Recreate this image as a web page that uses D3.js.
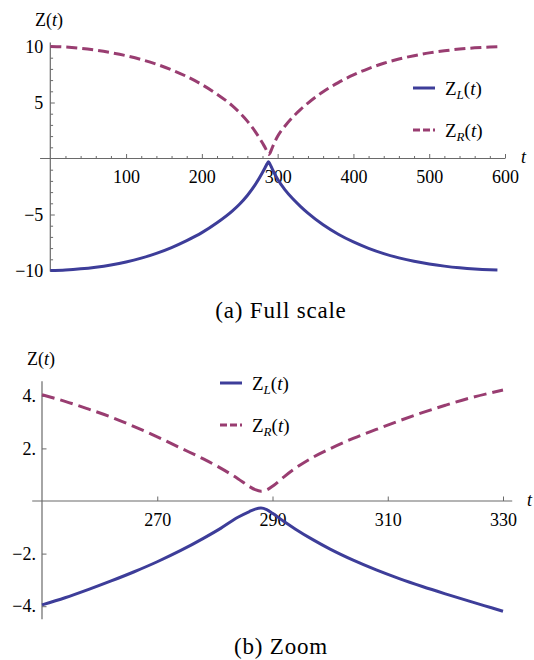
<!DOCTYPE html>
<html>
<head>
<meta charset="utf-8">
<script src="https://cdn.jsdelivr.net/npm/d3@7"></script>
</head>
<body style="margin:0">
<svg id="chart" width="534" height="660"></svg>
<script>
// (a) full scale, t = 0 ... 590
const tFull = [0, 20, 40, 60, 80, 100, 120, 140, 160, 180, 200, 220, 240, 250, 260, 270, 280, 284, 286, 288,
    290, 292, 296, 300, 310, 320, 330, 340, 360, 380, 400, 420, 440, 460, 480, 500, 520, 540, 560, 580, 590];
const zLFull = [-10, -9.95, -9.85, -9.7, -9.5, -9.24, -8.9, -8.47, -7.95, -7.33, -6.62, -5.74, -4.7, -4.06, -3.3, -2.38, -1.25, -0.74, -0.48, -0.28,
    -0.52, -0.8, -1.36, -1.86, -2.82, -3.6, -4.27, -4.88, -5.92, -6.76, -7.45, -8.02, -8.49, -8.87, -9.18, -9.42, -9.61, -9.76, -9.87, -9.94, -9.96];
const zRFull = [10.0, 9.95, 9.84, 9.67, 9.45, 9.18, 8.84, 8.42, 7.92, 7.32, 6.6, 5.74, 4.72, 4.08, 3.34, 2.45, 1.38, 0.9, 0.6, 0.36,
    0.5, 0.82, 1.45, 1.98, 2.92, 3.7, 4.36, 4.95, 5.96, 6.78, 7.46, 8.03, 8.5, 8.88, 9.18, 9.43, 9.62, 9.77, 9.88, 9.95, 9.97];

// (b) zoom, t = 250 ... 330
const tZoom = [250, 254, 258, 262, 266, 270, 274, 278, 281, 284, 286, 287, 288, 289, 290, 292, 294, 297, 300, 304, 308, 312, 316, 320, 324, 328, 330];
const zLZoom = [-3.95, -3.68, -3.37, -3.04, -2.69, -2.31, -1.89, -1.42, -1.04, -0.62, -0.4, -0.31, -0.27, -0.33, -0.47, -0.78, -1.07, -1.47, -1.83, -2.25, -2.62, -2.95, -3.25, -3.53, -3.8, -4.06, -4.19];
const zRZoom = [4.04, 3.79, 3.5, 3.19, 2.83, 2.44, 2.02, 1.6, 1.25, 0.85, 0.55, 0.43, 0.37, 0.42, 0.56, 0.92, 1.25, 1.66, 1.99, 2.38, 2.72, 3.05, 3.36, 3.64, 3.9, 4.12, 4.22];

// ticks
const fullXTicks = [100, 200, 300, 400, 500, 600];
const fullYTicks = [-10, -5, 5, 10];
const zoomXTicks = [270, 290, 310, 330];
const zoomYTicks = [-4, -2, 2, 4];

const BLUE = '#3d3d99',
    PURPLE = '#993d71',
    AXIS = '#6a6a6a',
    FONT = '"Liberation Serif", monospace';

var svg = d3.select('#chart');

// every text gets its own font
function serif(sel, size) {
    return sel.style('font-family', FONT).style('font-size', size + 'px');
}

function styleAxis(a) {
    a.attr('font-family', null).attr('font-size', null);
    a.select('.domain').remove();
    a.selectAll('line').attr('stroke', AXIS);
    a.selectAll('text').attr('fill', '#000').call(serif, 18);
}

function panel(opt) {
    var g = svg.append('g');
    var x = d3.scaleLinear().domain(opt.xDomain).range(opt.xRange);
    var y = d3.scaleLinear().domain(opt.yDomain).range(opt.yRange);

    // axis lines (a bit longer than the ticks, like Mathematica)
    g.append('line')
        .attr('x1', x(opt.xLine[0])).attr('x2', x(opt.xLine[1]))
        .attr('y1', y(0)).attr('y2', y(0))
        .attr('stroke', AXIS).attr('stroke-width', 1.2);
    g.append('line')
        .attr('x1', x(opt.xDomain[0])).attr('x2', x(opt.xDomain[0]))
        .attr('y1', y(opt.yLine[0])).attr('y2', y(opt.yLine[1]))
        .attr('stroke', AXIS).attr('stroke-width', 1.2);

    // minor ticks
    if (opt.xMinor) {
        g.append('g')
            .attr('transform', `translate(0,${y(0)})`)
            .call(d3.axisBottom(x).tickValues(opt.xMinor).tickSize(-2.5).tickFormat(''))
            .call(styleAxis);
    }
    if (opt.yMinor) {
        g.append('g')
            .attr('transform', `translate(${x(opt.xDomain[0])},0)`)
            .call(d3.axisLeft(y).tickValues(opt.yMinor).tickSize(-2.8).tickFormat(''))
            .call(styleAxis);
    }

    // major ticks + labels
    g.append('g')
        .attr('transform', `translate(0,${y(0)})`)
        .call(d3.axisBottom(x).tickValues(opt.xTicks).tickSize(-4.5).tickPadding(12).tickFormat(d => d))
        .call(styleAxis);
    g.append('g')
        .attr('transform', `translate(${x(opt.xDomain[0])},0)`)
        .call(d3.axisLeft(y).tickValues(opt.yTicks).tickSize(-4.5).tickPadding(opt.yPad).tickFormat(opt.yFormat))
        .call(styleAxis);

    // curves
    var line = d3.line()
        .x(d => x(d[0]))
        .y(d => y(d[1]))
        .curve(d3.curveMonotoneX);

    g.append('path')
        .datum(d3.zip(opt.t, opt.zR))
        .attr('fill', 'none')
        .attr('stroke', PURPLE)
        .attr('stroke-width', 3)
        .attr('stroke-dasharray', opt.dash)
        .attr('d', line);
    g.append('path')
        .datum(d3.zip(opt.t, opt.zL))
        .attr('fill', 'none')
        .attr('stroke', BLUE)
        .attr('stroke-width', 3)
        .attr('d', line);

    // axis labels
    var yl = g.append('text')
        .attr('x', opt.yLabel[0]).attr('y', opt.yLabel[1])
        .call(serif, 18);
    yl.append('tspan').text('Z(');
    yl.append('tspan').style('font-style', 'italic').text('t');
    yl.append('tspan').text(')');

    g.append('text')
        .attr('x', opt.tLabel[0]).attr('y', opt.tLabel[1])
        .call(serif, 18).style('font-style', 'italic')
        .text('t');

    // legend
    var lg = g.append('g').attr('transform', `translate(${opt.legend[0]},${opt.legend[1]})`);
    [['L', BLUE, null, 0], ['R', PURPLE, '7,3', 42]].forEach(function (item) {
        lg.append('line')
            .attr('x1', 0).attr('x2', 22)
            .attr('y1', item[3]).attr('y2', item[3])
            .attr('stroke', item[1]).attr('stroke-width', 3)
            .attr('stroke-dasharray', item[2]);
        var txt = lg.append('text')
            .attr('x', 32).attr('y', item[3] + 7)
            .call(serif, 19);
        txt.append('tspan').text('Z');
        txt.append('tspan').style('font-style', 'italic').style('font-size', '13px').attr('dy', 4).text(item[0]);
        txt.append('tspan').attr('dy', -4).text('(');
        txt.append('tspan').style('font-style', 'italic').text('t');
        txt.append('tspan').text(')');
    });

    // caption
    svg.append('text')
        .attr('x', 281).attr('y', opt.caption[1])
        .attr('text-anchor', 'middle')
        .call(serif, 23)
        .style('letter-spacing', '0.8px')
        .text(opt.caption[0]);
}

panel({
    t: tFull, zL: zLFull, zR: zRFull,
    xDomain: [0, 600], xRange: [50.3, 505],
    yDomain: [-10, 10], yRange: [270.5, 46.5],
    xLine: [-13.5, 600], yLine: [-10.1, 10.35],
    xTicks: fullXTicks, yTicks: fullYTicks,
    xMinor: d3.range(20, 600, 20).filter(v => v % 100 !== 0),
    yMinor: d3.range(-9, 10, 1).filter(v => v % 5 !== 0),
    yFormat: d => (d < 0 ? '\u2212' : '') + Math.abs(d),
    yPad: 7,
    dash: '11,5',
    yLabel: [35, 26], tLabel: [521, 163],
    legend: [413, 88],
    caption: ['(a) Full scale', 318]
});

panel({
    t: tZoom, zL: zLZoom, zR: zRZoom,
    xDomain: [250, 330], xRange: [42, 503],
    yDomain: [-4, 4], yRange: [606.2, 395.8],
    xLine: [248.3, 331.6], yLine: [-4.5, 4.55],
    xTicks: zoomXTicks, yTicks: zoomYTicks,
    yFormat: d => (d < 0 ? '\u2212' : '') + Math.abs(d) + '.',
    yPad: 6,
    dash: '13,6',
    yLabel: [27, 365], tLabel: [527, 506],
    legend: [220, 383],
    caption: ['(b) Zoom', 654]
});
</script>
</body>
</html>
